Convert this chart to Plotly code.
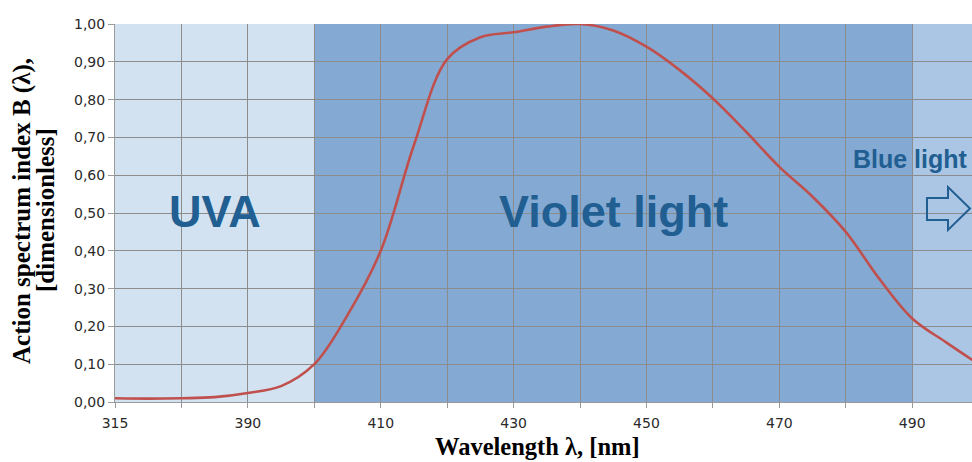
import plotly.graph_objects as go

# ---- data ----
categories = ["315", "350", "380", "385", "390", "395", "400", "405", "410", "415",
              "420", "425", "430", "435", "440", "445", "450", "455", "460", "465",
              "470", "475", "480", "485", "490", "495", "500"]
b_values = [0.010, 0.009, 0.010, 0.013, 0.024, 0.042, 0.100, 0.230, 0.400, 0.680,
            0.907, 0.965, 0.978, 0.993, 1.000, 0.983, 0.940, 0.878, 0.803, 0.715,
            0.622, 0.543, 0.450, 0.327, 0.221, 0.159, 0.100]
y_ticks = [0.0, 0.1, 0.2, 0.3, 0.4, 0.5, 0.6, 0.7, 0.8, 0.9, 1.0]
grid_cats = categories[::2]
label_cats = categories[::4]
region_bounds = {"UVA": ("315", "400"), "Violet": ("400", "490"), "Blue": ("490", "500")}

# ---- styles ----
C_UVA = "#d3e2f1"
C_VIOLET = "#84aad3"
C_BLUE = "#abc6e4"
C_TEXT = "#215e92"
C_LINE = "#c0504d"
C_GRID = "#8c8c8c"

W, H = 972, 462
ML, MR, MT, MB = 115, 0, 24, 60
XMAX = 25.8

fig = go.Figure()
fig.add_trace(go.Scatter(
    x=categories, y=b_values, mode="lines",
    line=dict(color=C_LINE, width=2.6, shape="spline", smoothing=1.0),
    hoverinfo="x+y", showlegend=False))

def idx(c):
    return categories.index(c)

shapes = []
for key, col in (("UVA", C_UVA), ("Violet", C_VIOLET), ("Blue", C_BLUE)):
    a, b = region_bounds[key]
    shapes.append(dict(type="rect", xref="x", yref="y", x0=idx(a), x1=idx(b), y0=0, y1=1,
                       fillcolor=col, line=dict(width=0), layer="below"))

# helpers: pixel -> paper
def px(xp):
    return (xp - ML) / (W - ML - MR)
def py(yp):
    return 1 - (yp - MT) / (H - MT - MB)

pts = [(927, 198), (948, 198), (948, 187), (970, 208.5), (948, 230), (948, 220), (927, 220)]
path = "M " + " L ".join(f"{px(a):.5f},{py(b):.5f}" for a, b in pts) + " Z"
shapes.append(dict(type="path", xref="paper", yref="paper", path=path,
                   line=dict(color=C_TEXT, width=2), fillcolor="rgba(0,0,0,0)", layer="above"))

SERIF = "Liberation Serif, Times New Roman"
SANS = "Liberation Sans, Arial"
annotations = [
    dict(x=(idx("315") + idx("400")) / 2, y=0.505, xref="x", yref="y", text="<b>UVA</b>",
         showarrow=False, font=dict(family=SANS, size=45, color=C_TEXT)),
    dict(x=(idx("400") + idx("490")) / 2, y=0.505, xref="x", yref="y", text="<b>Violet light</b>",
         showarrow=False, font=dict(family=SANS, size=45, color=C_TEXT)),
    dict(x=23.94, y=0.642, xref="x", yref="y", text="<b>Blue light</b>",
         showarrow=False, font=dict(family=SANS, size=25, color=C_TEXT)),
    dict(x=px(537), y=py(446), xref="paper", yref="paper", text="<b>Wavelength λ, [nm]</b>",
         showarrow=False, xanchor="center", yanchor="middle",
         font=dict(family=SERIF, size=24.5, color="#000000")),
    dict(x=px(22), y=py(211), xref="paper", yref="paper",
         text="<b>Action spectrum index B (λ),</b>",
         showarrow=False, textangle=-90, xanchor="center", yanchor="middle",
         font=dict(family=SERIF, size=25, color="#000000")),
    dict(x=px(45), y=py(210), xref="paper", yref="paper",
         text="<b>[dimensionless]</b>",
         showarrow=False, textangle=-90, xanchor="center", yanchor="middle",
         font=dict(family=SERIF, size=25, color="#000000")),
]

fig.update_layout(
    width=W, height=H,
    margin=dict(l=ML, r=MR, t=MT, b=MB),
    paper_bgcolor="white", plot_bgcolor="white",
    separators=",.",
    shapes=shapes, annotations=annotations,
    showlegend=False,
    xaxis=dict(type="category", range=[0, XMAX], tickmode="array",
               tickvals=grid_cats,
               ticktext=[c if c in label_cats else "" for c in grid_cats],
               showgrid=True, gridcolor=C_GRID, gridwidth=1,
               showline=True, linecolor="#9a9a9a", linewidth=1,
               ticks="outside", ticklen=5, tickcolor="#9a9a9a",
               ticklabelstandoff=3,
               tickfont=dict(family="DejaVu Sans, Verdana", size=14, color="#2a2a2a"),
               zeroline=False, fixedrange=True),
    yaxis=dict(range=[0, 1], tickmode="array", tickvals=y_ticks, tickformat=".2f",
               showgrid=True, gridcolor=C_GRID, gridwidth=1,
               showline=True, linecolor="#9a9a9a", linewidth=1,
               ticks="outside", ticklen=6, tickcolor="#9a9a9a",
               tickfont=dict(family="DejaVu Sans, Verdana", size=14, color="#2a2a2a"),
               zeroline=False, fixedrange=True),
)

fig.write_html("out.html",
               config={"displayModeBar": False},
               post_script="document.body.style.margin='0px';document.body.style.overflow='hidden';")
